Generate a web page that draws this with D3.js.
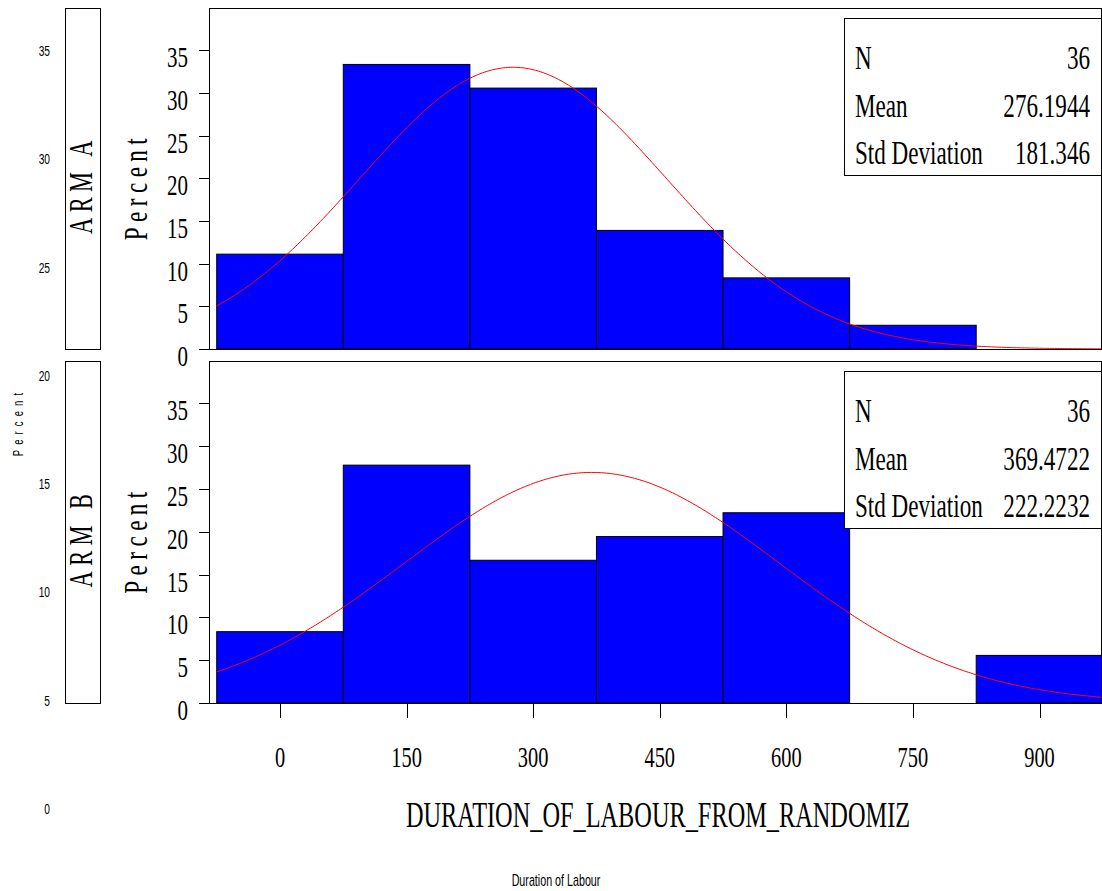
<!DOCTYPE html>
<html><head><meta charset="utf-8">
<script src="https://cdn.jsdelivr.net/npm/d3@7"></script>
<style>html,body{margin:0;padding:0;background:#fff;}svg{display:block;}</style>
</head><body>
<svg id="c" width="1102" height="891"></svg>
<script>
// ---- data ----
const binMids = [0, 150, 300, 450, 600, 750, 900];
const binWidth = 150;
const armAPercent = [11.11, 33.33, 30.56, 13.89, 8.33, 2.78, 0];
const armBPercent = [8.33, 27.78, 16.67, 19.44, 22.22, 0, 5.56];
const panelNames = ["ARM A", "ARM B"];
const statLabels = ["N", "Mean", "Std Deviation"];
const statsA = ["36", "276.1944", "181.346"];
const statsB = ["36", "369.4722", "222.2232"];
const yTicks = [0, 5, 10, 15, 20, 25, 30, 35];
const xTicks = [0, 150, 300, 450, 600, 750, 900];
const outerTicks = [0, 5, 10, 15, 20, 25, 30, 35];

const svg = d3.select("#c");
const SERIF = "'Liberation Serif','Times New Roman',serif";
const SANS = "'Liberation Sans',Arial,sans-serif";

function ctext(g, o) {
  const t = g.append("text")
    .attr("transform", `translate(${o.x},${o.y}) rotate(${o.rot || 0}) scale(${o.k || 0.68},1)`)
    .attr("font-family", o.family || SERIF)
    .attr("font-size", o.size)
    .attr("text-anchor", o.anchor || "middle")
    .attr("fill", "#000")
    .text(o.text);
  if (o.ls) t.attr("letter-spacing", o.ls);
  return t;
}

const frameLeft = 209.5, frameRight = 1101.5;
const x = d3.scaleLinear().domain([0, 900]).range([280, 1039.5]);

const panels = [
  { name: panelNames[0], data: armAPercent, stats: statsA, top: 8, bottom: 349 },
  { name: panelNames[1], data: armBPercent, stats: statsB, top: 361, bottom: 703 }
];

panels.forEach((p, pi) => {
  const g = svg.append("g");
  const y = d3.scaleLinear().domain([0, 40]).range([p.bottom, p.top - 0.5]);
  const mean = +p.stats[1], sd = +p.stats[2];

  const clipId = "clip" + pi;
  svg.append("clipPath").attr("id", clipId).append("rect")
    .attr("x", frameLeft).attr("y", p.top).attr("width", frameRight - frameLeft).attr("height", p.bottom - p.top);

  // frame
  g.append("rect").attr("x", frameLeft).attr("y", p.top + 0.5)
    .attr("width", frameRight - frameLeft).attr("height", p.bottom - p.top)
    .attr("fill", "#fff").attr("stroke", "#000").attr("stroke-width", 1);

  // bars
  g.append("g").attr("clip-path", `url(#${clipId})`).selectAll("rect")
    .data(binMids.map((m, i) => ({ m, v: p.data[i] })).filter(d => d.v > 0))
    .join("rect")
    .attr("x", d => x(d.m - binWidth / 2))
    .attr("y", d => y(d.v))
    .attr("width", d => x(d.m + binWidth / 2) - x(d.m - binWidth / 2))
    .attr("height", d => y(0) - y(d.v))
    .attr("fill", "#0000ff").attr("stroke", "#000").attr("stroke-width", 1);

  // normal curve fitted from the panel's mean / std deviation
  const pts = d3.range(-75, 976, 3).map(v => {
    const z = (v - mean) / sd;
    return [v, 100 * binWidth * Math.exp(-0.5 * z * z) / (sd * Math.sqrt(2 * Math.PI))];
  });
  g.append("path").attr("clip-path", `url(#${clipId})`)
    .attr("d", d3.line().x(d => x(d[0])).y(d => y(d[1]))(pts))
    .attr("fill", "none").attr("stroke", "#ff0000").attr("stroke-width", 1);

  // bottom line of frame
  g.append("line").attr("x1", 199).attr("x2", frameRight).attr("y1", p.bottom + 0.5).attr("y2", p.bottom + 0.5)
    .attr("stroke", "#000");

  // y axis
  const ya = g.append("g");
  yTicks.forEach(t => {
    ya.append("line").attr("x1", 199).attr("x2", frameLeft).attr("y1", Math.round(y(t)) + 0.5).attr("y2", Math.round(y(t)) + 0.5)
      .attr("stroke", "#000");
    ctext(ya, { x: 188, y: y(t) + 17, text: String(t), size: 30, k: 0.7, anchor: "end" });
  });

  // y label
  ctext(g, { x: 147, y: (p.top + p.bottom) / 2 + 8, rot: -90, text: "Percent", size: 34, k: 0.68, ls: 8 });

  // panel label box
  g.append("rect").attr("x", 65.5).attr("y", p.top + 0.5).attr("width", 35).attr("height", p.bottom - p.top)
    .attr("fill", "#fff").attr("stroke", "#000");
  ctext(g, { x: 92, y: (p.top + p.bottom) / 2 + 6, rot: -90, text: p.name, size: 33, k: 0.68, ls: 8 });

  // stats box
  const bx = 844.5, by = p.top + 10.5;
  g.append("rect").attr("x", bx).attr("y", by).attr("width", 257).attr("height", 157)
    .attr("fill", "#fff").attr("stroke", "#000");
  statLabels.forEach((lab, i) => {
    const base = p.top + 61 + i * 47.5;
    ctext(g, { x: 855, y: base, text: lab, size: 34, k: 0.68, anchor: "start" });
    ctext(g, { x: 1090, y: base, text: p.stats[i], size: 34, k: 0.68, anchor: "end" });
  });

  if (pi === 1) {
    const xa = g.append("g");
    xTicks.forEach(t => {
      xa.append("line").attr("x1", Math.round(x(t)) + 0.5).attr("x2", Math.round(x(t)) + 0.5)
        .attr("y1", p.bottom).attr("y2", p.bottom + 15).attr("stroke", "#000");
      ctext(xa, { x: x(t), y: 767, text: String(t), size: 30, k: 0.68 });
    });
  }
});

// x title
ctext(svg, { x: 658, y: 827, text: "DURATION_OF_LABOUR_FROM_RANDOMIZ", size: 36, k: 0.676 });

// outer (small) axis
const yo = d3.scaleLinear().domain([0, 35]).range([808, 50]);
outerTicks.forEach(t => {
  ctext(svg, { x: 50, y: yo(t) + 6, text: String(t), size: 15, k: 0.68, family: SANS, anchor: "end" });
});
ctext(svg, { x: 23, y: 422, rot: -90, text: "Percent", size: 14, k: 0.68, family: SANS, ls: 7.5 });
ctext(svg, { x: 556, y: 886, text: "Duration of Labour", size: 16, k: 0.67, family: SANS });
</script>
</body></html>
